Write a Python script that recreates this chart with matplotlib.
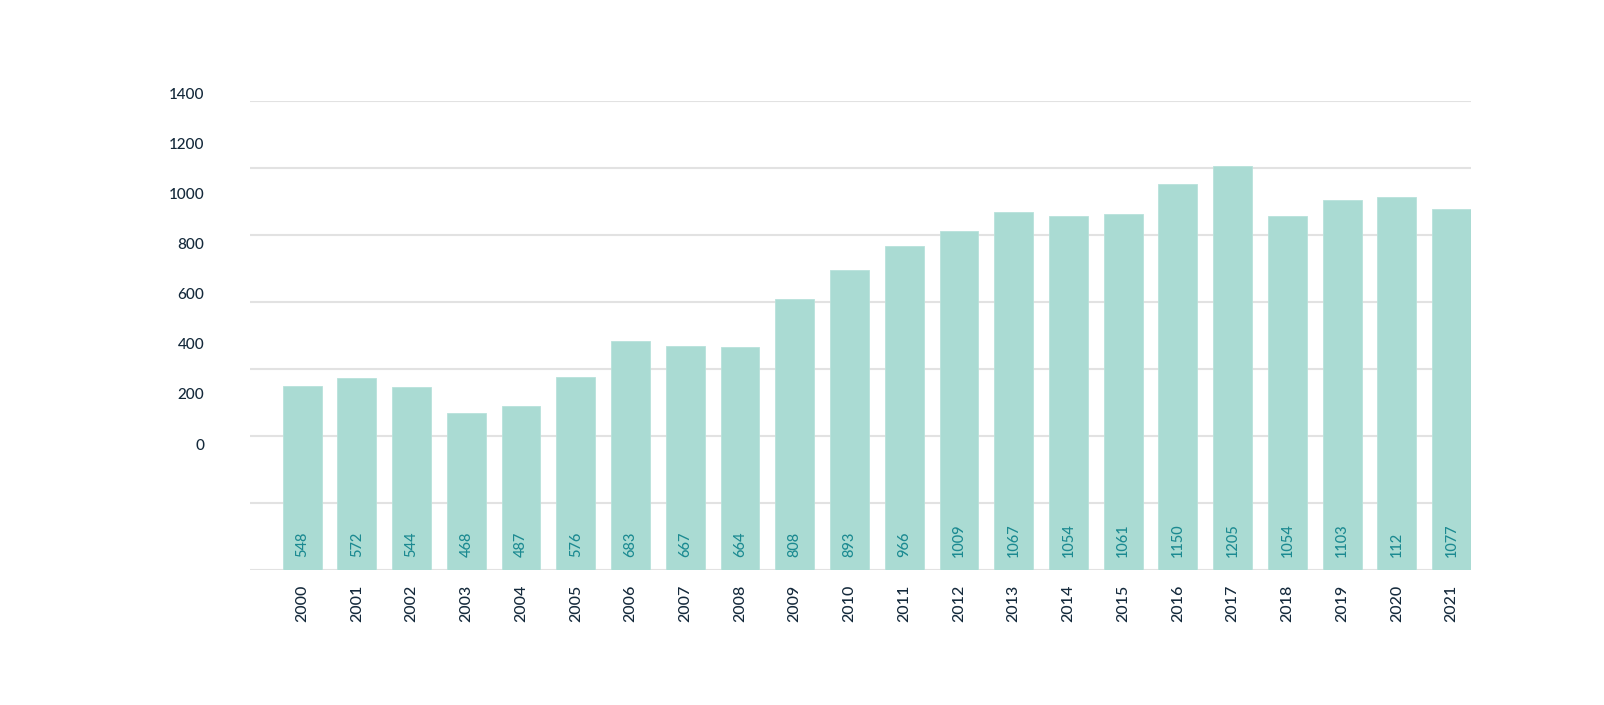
import matplotlib.pyplot as plt

years = [str(y) for y in range(2000, 2022)]
values = [548, 572, 544, 468, 487, 576, 683, 667, 664, 808, 893,
          966, 1009, 1067, 1054, 1061, 1150, 1205, 1054, 1103, 1112, 1077]
# the label on the 2020 bar reads "112" in the original
bar_labels = ['548', '572', '544', '468', '487', '576', '683', '667', '664', '808', '893',
              '966', '1009', '1067', '1054', '1061', '1150', '1205', '1054', '1103', '112', '1077']
y_ticks = [0, 200, 400, 600, 800, 1000, 1200, 1400]

plt.rcParams['font.family'] = ['Lato', 'DejaVu Sans']
text_col = '#14293b'

fig = plt.figure(figsize=(16.04, 7.05), dpi=100)
ax = fig.add_axes([250 / 1604, 1 - 569.5 / 705, 1221 / 1604, 469 / 705])

x = list(range(len(years)))
ax.bar(x, values, width=0.71, color='#aadbd3', edgecolor='#b8e2db', linewidth=0.6, zorder=2)
for i, lab in zip(x, bar_labels):
    ax.annotate(lab, xy=(i, 0), xytext=(0, 9), textcoords='offset points',
                rotation=90, ha='center', va='bottom', fontsize=10.5,
                fontweight='medium', color='#1b8a91')

ax.set_xlim(-0.952, 21.354)
ax.set_ylim(0, 1400)
ax.set_yticks(y_ticks)
ax.yaxis.grid(True, color='#e2e2e2', linewidth=1.5, zorder=0)
ax.set_yticklabels([])
ax.tick_params(axis='y', length=0)
ax.set_xticks(x)
ax.set_xticklabels(years, rotation=90, fontsize=11.5, fontweight='medium', color=text_col)
ax.tick_params(axis='x', length=0, pad=11)
for s in ax.spines.values():
    s.set_visible(False)

# y labels sit on their own, more tightly spaced scale
ax2 = fig.add_axes([250 / 1604, 1 - 444 / 705, 1221 / 1604, (444 - 93.3) / 705])
ax2.patch.set_visible(False)
ax2.set_ylim(0, 1400)
ax2.set_yticks(y_ticks)
ax2.set_yticklabels([str(t) for t in y_ticks], fontsize=11, fontweight='medium', color=text_col)
ax2.tick_params(axis='y', length=0, pad=33)
ax2.set_xticks([])
for s in ax2.spines.values():
    s.set_visible(False)

fig.savefig('out.png', dpi=100)
